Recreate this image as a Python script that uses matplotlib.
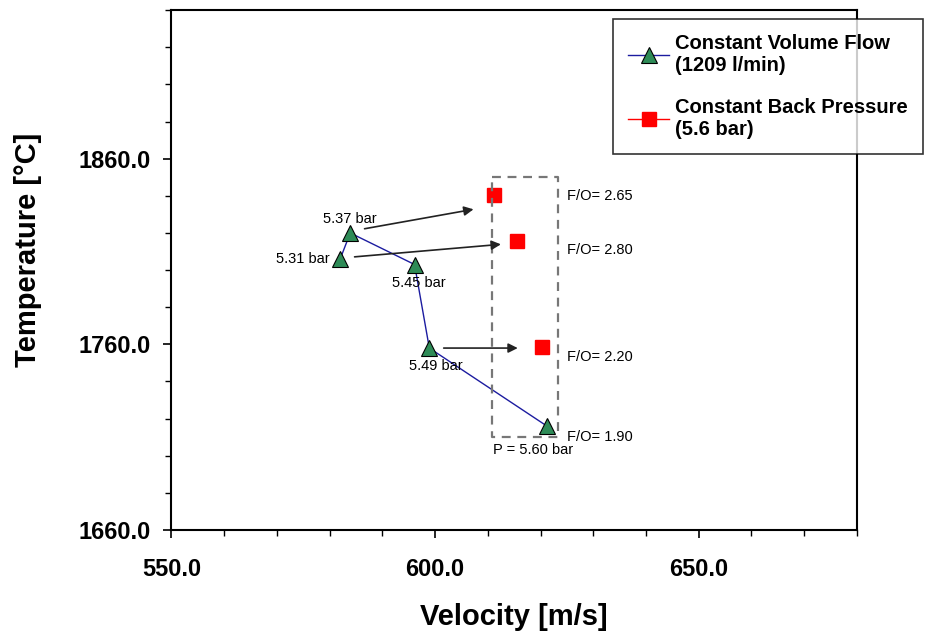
import numpy as np
import matplotlib.pyplot as plt
from matplotlib.lines import Line2D

plt.rcParams['font.family'] = ['Liberation Sans', 'DejaVu Sans']

# Constant volume flow series (line order)
vol_velocity = [582.0, 583.9, 596.1, 598.9, 621.2]
vol_temp = [1806, 1820, 1803, 1758, 1716]

# Constant back pressure series
bp_velocity = [611.1, 615.5, 620.2]
bp_temp = [1840.5, 1815.7, 1758.4]

fo_labels = ['F/O= 2.65', 'F/O= 2.80', 'F/O= 2.20', 'F/O= 1.90']
fo_temp = [1840, 1811, 1753, 1710]

fig = plt.figure(figsize=(9.25, 6.34), dpi=100)
ax = fig.add_axes([0.1854, 0.164, 0.741, 0.820])

ax.plot(vol_velocity, vol_temp, '-', color='#1c1ca0', lw=1.0,
        marker='^', markersize=11, markerfacecolor='#2e8b57',
        markeredgecolor='black', markeredgewidth=0.8)
ax.plot(bp_velocity, bp_temp, linestyle='none', marker='s',
        markersize=10, markerfacecolor='red', markeredgecolor='red')

# arrows from volume-flow points to back-pressure points
arrows = [((586.1, 1822), (607.8, 1833)),
          ((584.2, 1807), (613.0, 1814)),
          ((601.1, 1758), (616.2, 1758))]
for (x0, y0), (x1, y1) in arrows:
    ax.annotate('', xy=(x1, y1), xytext=(x0, y0),
                arrowprops=dict(arrowstyle='-|>', color='#222222', lw=1.2,
                                mutation_scale=14))

# dashed box around the 5.6 bar points
ax.plot([610.8, 623.3, 623.3, 610.8, 610.8],
        [1850.3, 1850.3, 1710.3, 1710.3, 1850.3],
        '--', color='#777777', lw=1.6, dashes=(4, 3))

# pressure labels
ax.text(583.9, 1824, '5.37 bar', ha='center', va='bottom', fontsize=10.5)
ax.text(580.0, 1806, '5.31 bar', ha='right', va='center', fontsize=10.5)
ax.text(597.0, 1797, '5.45 bar', ha='center', va='top', fontsize=10.5)
ax.text(600.2, 1752, '5.49 bar', ha='center', va='top', fontsize=10.5)
ax.text(618.5, 1707, 'P = 5.60 bar', ha='center', va='top', fontsize=10.5)

for lab, t in zip(fo_labels, fo_temp):
    ax.text(625.0, t, lab, ha='left', va='center', fontsize=10.5)

ax.set_xlim(550, 680)
ax.set_ylim(1660, 1940)
ax.set_xticks([550, 600, 650])
ax.set_xticks(np.arange(550, 681, 10), minor=True)
ax.set_yticks([1660, 1760, 1860])
ax.set_yticks(np.arange(1660, 1941, 20), minor=True)
ax.set_xticklabels(['550.0', '600.0', '650.0'], fontsize=17, fontweight='bold')
ax.set_yticklabels(['1660.0', '1760.0', '1860.0'], fontsize=17, fontweight='bold')
ax.tick_params(which='major', direction='out', length=6, width=1.2)
ax.tick_params(axis='x', which='major', pad=14)
ax.tick_params(axis='y', which='major', pad=9)
ax.tick_params(which='minor', direction='out', length=4, width=1.0)

for s in ax.spines.values():
    s.set_linewidth(1.5)

ax.set_xlabel('Velocity [m/s]', fontsize=21, fontweight='bold')
ax.set_ylabel('Temperature [°C]', fontsize=21, fontweight='bold')
ax.xaxis.set_label_coords(0.5, -0.14)
ax.yaxis.set_label_coords(-0.189, 0.538)

handles = [Line2D([], [], color='#1c1ca0', lw=1.0, marker='^', markersize=11,
                  markerfacecolor='#2e8b57', markeredgecolor='black',
                  markeredgewidth=0.8),
           Line2D([], [], color='red', lw=1.0, marker='s', markersize=10,
                  markerfacecolor='red', markeredgecolor='red')]
labels = ['Constant Volume Flow\n(1209 l/min)', 'Constant Back Pressure\n(5.6 bar)']
leg = fig.legend(handles, labels, loc='upper left', bbox_to_anchor=(0.663, 0.970),
                 prop={'size': 14.5, 'weight': 'bold'}, frameon=True,
                 fancybox=False, edgecolor='black', handlelength=2.0,
                 handletextpad=0.3, labelspacing=1.15, borderpad=0.75,
                 borderaxespad=0)
leg.get_frame().set_linewidth(1.2)

fig.savefig('out.png', dpi=100)
